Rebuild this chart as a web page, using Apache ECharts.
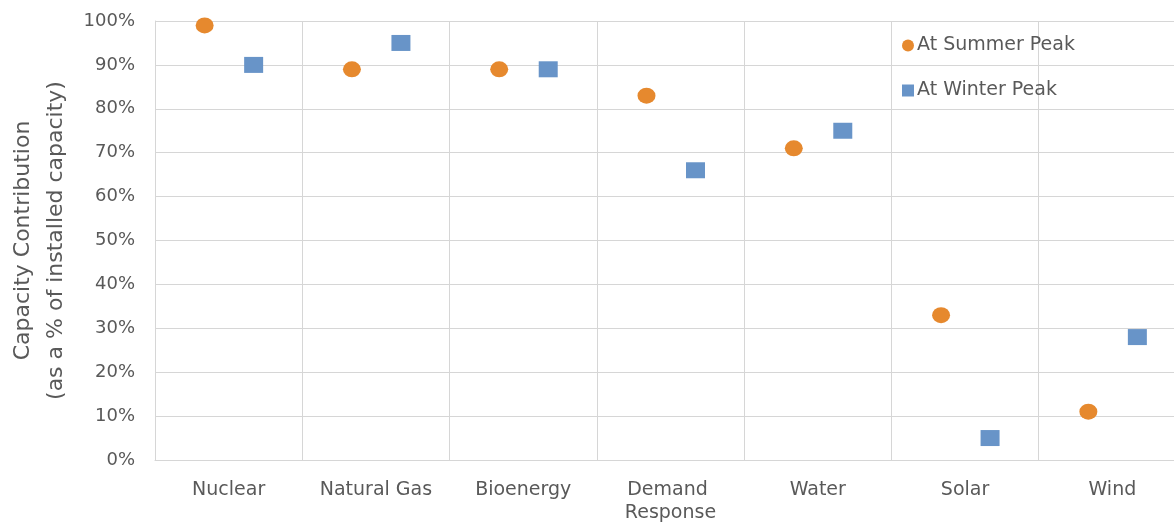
<!DOCTYPE html>
<html>
<head>
<meta charset="utf-8">
<script src="https://cdn.jsdelivr.net/npm/echarts@6/dist/echarts.min.js"></script>
<style>
html,body{margin:0;padding:0;background:#fff;}
#c{width:1174px;height:522px;}
</style>
</head>
<body>
<div id="c"></div>
<script>
const categories = ["Nuclear", "Natural Gas", "Bioenergy", "Demand Response", "Water", "Solar", "Wind"];
const summerPeak = [99, 89, 89, 83, 71, 33, 11];
const winterPeak = [90, 95, 89, 66, 75, 5, 28];
const yTicks = [0, 10, 20, 30, 40, 50, 60, 70, 80, 90, 100];

const FONT = "'DejaVu Sans', sans-serif";
const TXT = '#595959';
const GRID = '#d6d6d6';

const chart = echarts.init(document.getElementById('c'), null, {renderer: 'canvas'});
chart.setOption({
  animation: false,
  backgroundColor: '#fff',
  textStyle: {fontFamily: FONT, color: TXT},
  grid: {left: 155, top: 21, bottom: 62, right: -12, containLabel: false, outerBoundsMode: 'none'},
  legend: {
    orient: 'vertical',
    left: 897, top: 31,
    itemGap: 26,
    itemWidth: 12, itemHeight: 12,
    textStyle: {fontFamily: FONT, fontSize: 19, color: TXT, padding: [0,0,0,-2]},
    data: [
      {name: 'At Summer Peak', icon: 'circle'},
      {name: 'At Winter Peak', icon: 'rect'}
    ]
  },
  xAxis: {
    type: 'category',
    data: categories,
    boundaryGap: true,
    axisLine: {show: true, lineStyle: {color: GRID, width: 1}},
    axisTick: {show: false},
    splitLine: {show: true, lineStyle: {color: GRID, width: 1}},
    axisLabel: {
      interval: 0, margin: 19, fontSize: 19, color: TXT, fontFamily: FONT,
      width: 130, overflow: 'break', lineHeight: 23
    }
  },
  yAxis: {
    type: 'value',
    min: yTicks[0], max: yTicks[yTicks.length - 1], interval: yTicks[1] - yTicks[0],
    axisLine: {show: true, lineStyle: {color: GRID}},
    axisTick: {show: false},
    splitLine: {show: true, lineStyle: {color: GRID, width: 1}},
    axisLabel: {formatter: '{value}%', fontSize: 18, color: TXT, margin: 20, fontFamily: FONT},
    name: 'Capacity Contribution\n(as a % of installed capacity)',
    nameLocation: 'middle',
    nameRotate: 90,
    nameGap: 81,
    nameTextStyle: {fontSize: 22, color: TXT, lineHeight: 33, fontFamily: FONT}
  },
  series: [
    {
      name: 'At Summer Peak', type: 'scatter',
      data: summerPeak,
      symbol: 'circle', symbolSize: [18, 16], symbolOffset: [-24, 0],
      itemStyle: {color: '#E6892E', opacity: 1}
    },
    {
      name: 'At Winter Peak', type: 'scatter',
      data: winterPeak,
      symbol: 'rect', symbolSize: [19, 16], symbolOffset: [25, 0],
      itemStyle: {color: '#6894C8', opacity: 1}
    }
  ]
});
</script>
</body>
</html>
